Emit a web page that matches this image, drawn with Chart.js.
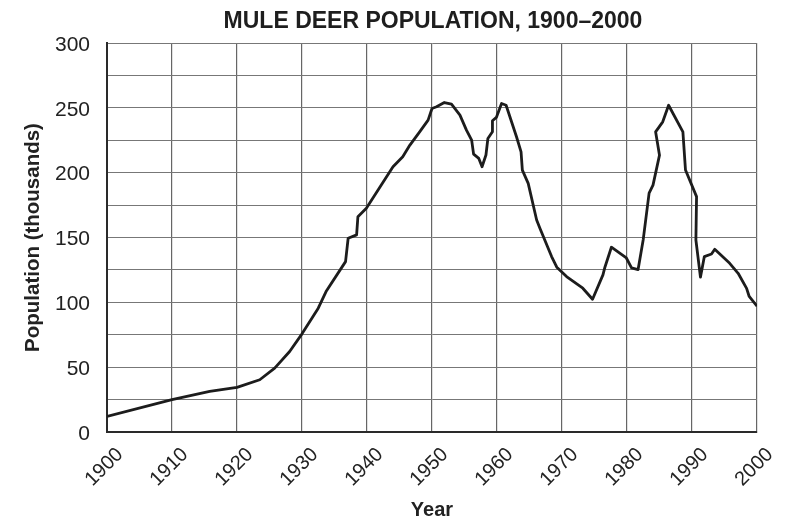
<!DOCTYPE html>
<html>
<head>
<meta charset="utf-8">
<title>Mule Deer Population</title>
<script src="https://cdn.jsdelivr.net/npm/chart.js@4.4.1/dist/chart.umd.min.js"></script>
<style>
  body { margin: 0; background: #fff; }
  #wrap { width: 791px; height: 531px; }
</style>
</head>
<body>
<div id="wrap"><canvas id="deer-chart"></canvas></div>
<script>
// values
const chartTitle = "MULE DEER POPULATION, 1900–2000";
const years = [
  1900, 1910, 1915.8, 1920, 1923.5, 1925.8, 1928.1, 1930, 1932.5, 1933.7,
  1936.7, 1937.1, 1938.4, 1938.6, 1939.9, 1944, 1945.5, 1946.6, 1948.1, 1949.4,
  1950, 1950.7, 1951.9, 1953, 1954.3, 1955.3, 1956.1, 1956.4, 1957.2, 1957.7,
  1958.3, 1958.6, 1959.3, 1959.3, 1959.9, 1960.7, 1961.4, 1963, 1963.7, 1963.9,
  1964.8, 1966.1, 1966.6, 1968.4, 1969.2, 1970.7, 1973.2, 1974.7, 1976.3, 1976.6,
  1977.6, 1979.9, 1980.7, 1981.7, 1982.5, 1983.4, 1984, 1985, 1984.4, 1985.5,
  1986.4, 1988.6, 1989, 1990.7, 1990.6, 1991.3, 1991.9, 1993, 1993.5, 1995.8,
  1997.1, 1998.4, 1998.8, 2000
];
const population = [
  12, 25, 31.3, 34.4, 40.3, 49.3, 62.1, 75.7, 95.5, 108.3,
  131.4, 149.4, 152, 166, 172.5, 204.6, 212.3, 221.3, 231.5, 240.5,
  249.5, 250.8, 254.1, 252.8, 244.4, 232.8, 225.1, 214.3, 211, 204.6,
  213.6, 226.4, 231.5, 240, 242.6, 253.3, 252, 227.7, 216.1, 202,
  191.7, 163.5, 157.1, 135.3, 127.1, 119.9, 110.9, 102.4, 121.2, 127.1,
  142.5, 134.2, 126.5, 125.2, 148.5, 184.2, 190.4, 213.5, 231.5, 239.2,
  252, 231.5, 202, 181.5, 148.1, 119.4, 135.3, 137.3, 140.9, 130.1,
  122.4, 110.8, 104.5, 97
];
const xTicks = [1900, 1910, 1920, 1930, 1940, 1950, 1960, 1970, 1980, 1990, 2000];
const yLabelTicks = [0, 50, 100, 150, 200, 250, 300];

const points = years.map((y, i) => ({ x: y, y: population[i] }));
const fontFamily = "'Liberation Sans', Arial, sans-serif";

// draws the title centred over the plot area
const plotTitle = {
  id: "plotTitle",
  afterDraw(chart) {
    const { ctx, chartArea } = chart;
    ctx.save();
    ctx.font = "bold 23px " + fontFamily;
    ctx.fillStyle = "#1e1e1e";
    ctx.textAlign = "center";
    ctx.textBaseline = "alphabetic";
    ctx.fillText(chartTitle, (chartArea.left + chartArea.right) / 2 + 1, 28);
    ctx.restore();
  },
};

const ctx = document.getElementById("deer-chart").getContext("2d");
new Chart(ctx, {
  type: "line",
  data: {
    datasets: [
      {
        data: points,
        borderColor: "#1c1c1c",
        borderWidth: 2.8,
        pointRadius: 0,
        tension: 0,
        borderJoinStyle: "round",
        fill: false,
      },
    ],
  },
  options: {
    responsive: true,
    maintainAspectRatio: false,
    animation: false,
    layout: { padding: { top: 43, right: 34, left: 0, bottom: 0 } },
    plugins: {
      legend: { display: false },
      tooltip: { enabled: false },
    },
    scales: {
      x: {
        type: "linear",
        min: 1900,
        max: 2000,
        afterBuildTicks: (s) => { s.ticks = xTicks.map((v) => ({ value: v })); },
        afterFit: (s) => { s.height = 99; },
        grid: { color: "#666", lineWidth: 1.2, drawTicks: false },
        border: { color: "#2a2a2a", width: 2 },
        ticks: {
          minRotation: 45,
          maxRotation: 45,
          padding: 11,
          labelOffset: 13,
          color: "#222",
          font: { family: fontFamily, size: 20 },
          callback: (v) => String(v),
        },
        title: {
          display: true,
          text: "Year",
          color: "#222",
          font: { family: fontFamily, size: 20, weight: "bold" },
          padding: { top: 0, bottom: 9 },
        },
      },
      y: {
        min: 0,
        max: 300,
        ticks: {
          stepSize: 25,
          padding: 17,
          labelOffset: 2,
          color: "#222",
          font: { family: fontFamily, size: 21 },
          callback: (v) => (yLabelTicks.includes(v) ? String(v) : ""),
        },
        afterFit: (s) => { s.width = 107; },
        grid: { color: "#777", lineWidth: 1, drawTicks: false },
        border: { color: "#2a2a2a", width: 2 },
        title: {
          display: true,
          text: "Population (thousands)",
          color: "#222",
          font: { family: fontFamily, size: 20.5, weight: "bold" },
          padding: { top: 21, bottom: 0 },
        },
      },
    },
  },
  plugins: [plotTitle],
});
</script>
</body>
</html>
